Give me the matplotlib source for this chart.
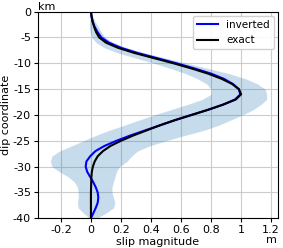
import numpy as np
import matplotlib
matplotlib.use("Agg")
import matplotlib.pyplot as plt
from matplotlib.ticker import FormatStrFormatter

plt.rcParams['axes.unicode_minus'] = False
plt.rcParams['font.size'] = 8

# depth (km) and slip values
depth = [0, -1, -2, -3, -4, -5, -6, -7, -8, -9, -10, -11, -12, -13, -14, -15,
         -16, -17, -18, -19, -20, -21, -22, -23, -24, -25, -26, -27, -28, -29,
         -30, -31, -32, -33, -34, -35, -36, -37, -38, -39, -40]

exact = [0.0, 0.005, 0.012, 0.022, 0.035, 0.055, 0.1, 0.18, 0.29, 0.42, 0.55,
         0.67, 0.78, 0.87, 0.94, 0.985, 1.0, 0.965, 0.88, 0.78, 0.67, 0.56,
         0.46, 0.37, 0.28, 0.2, 0.13, 0.08, 0.045, 0.025, 0.013, 0.006, 0.003,
         0.002, 0.001, 0.0, 0.0, 0.0, 0.0, 0.0, 0.0]

inverted = [0.0, 0.004, 0.012, 0.026, 0.045, 0.07, 0.12, 0.2, 0.31, 0.44, 0.57,
            0.69, 0.8, 0.885, 0.945, 0.985, 0.995, 0.96, 0.88, 0.78, 0.67, 0.56,
            0.46, 0.36, 0.26, 0.17, 0.09, 0.03, -0.005, -0.03, -0.035, -0.025,
            -0.005, 0.015, 0.032, 0.045, 0.049, 0.045, 0.032, 0.016, 0.0]

band_lo = [0.0, -0.005, -0.01, -0.01, -0.005, 0.005, 0.035, 0.09, 0.18, 0.3,
           0.42, 0.53, 0.63, 0.71, 0.77, 0.8, 0.8, 0.74, 0.64, 0.53, 0.42, 0.32,
           0.22, 0.12, 0.03, -0.05, -0.13, -0.21, -0.26, -0.27, -0.26, -0.21,
           -0.15, -0.11, -0.09, -0.085, -0.085, -0.09, -0.085, -0.05, -0.01]

band_hi = [0.0, 0.012, 0.03, 0.05, 0.07, 0.095, 0.15, 0.24, 0.36, 0.5, 0.64,
           0.78, 0.92, 1.03, 1.11, 1.16, 1.17, 1.17, 1.13, 1.08, 1.01, 0.93,
           0.85, 0.75, 0.62, 0.5, 0.39, 0.31, 0.27, 0.24, 0.19, 0.17, 0.16,
           0.15, 0.14, 0.14, 0.15, 0.16, 0.15, 0.1, 0.04]

xticks = [-0.2, 0, 0.2, 0.4, 0.6, 0.8, 1.0, 1.2]
yticks = [0, -5, -10, -15, -20, -25, -30, -35, -40]

fig = plt.figure(figsize=(2.83, 2.48), dpi=100)
ax = fig.add_axes([0.134, 0.12, 0.848, 0.833])

ax.fill_betweenx(depth, band_lo, band_hi, color='#1f77b4', alpha=0.25,
                 linewidth=0)
ax.plot(inverted, depth, color='blue', lw=1.5, label='inverted')
ax.plot(exact, depth, color='black', lw=1.5, label='exact')

ax.set_xlim(-0.353, 1.245)
ax.set_ylim(-40, 0)
ax.set_xticks(xticks)
ax.set_yticks(yticks)
ax.xaxis.set_major_formatter(FormatStrFormatter('%g'))
ax.grid(True, color='#cccccc', lw=0.8)
ax.set_axisbelow(True)
ax.tick_params(labelsize=8, length=3, pad=2)

ax.set_xlabel('slip magnitude', fontsize=8, labelpad=1)
ax.set_ylabel('dip coordinate', fontsize=8, labelpad=1)
ax.text(0.0, 1.0, 'km', transform=ax.transAxes, ha='left', va='bottom',
        fontsize=8)
fig.text(0.978, 0.012, 'm', ha='right', va='bottom', fontsize=8)

ax.legend(loc='upper right', fontsize=7.5, handlelength=2.0,
          borderaxespad=0.4, framealpha=0.9)

fig.savefig('out.png', dpi=100)
